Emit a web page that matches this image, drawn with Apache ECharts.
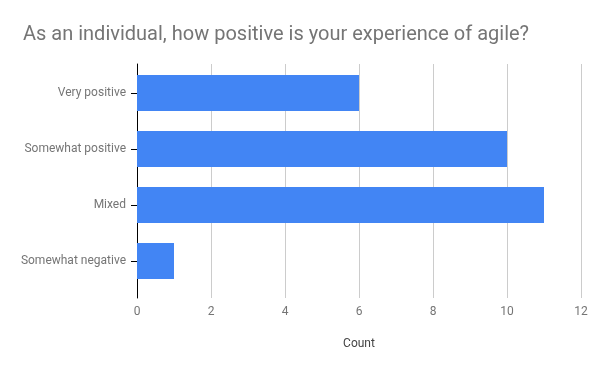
<!DOCTYPE html>
<html><head><meta charset="utf-8">
<script src="https://cdn.jsdelivr.net/npm/echarts@6/dist/echarts.min.js"></script>
<style>html,body{margin:0;padding:0;background:#fff}#c{width:600px;height:371px}</style>
</head><body><div id="c"></div>
<script>
const titleText = "As an individual, how positive is your experience of agile?";
const categories = ["Very positive", "Somewhat positive", "Mixed", "Somewhat negative"];
const counts = [6, 10, 11, 1];
const xTicks = [0, 2, 4, 6, 8, 10, 12];
const xName = "Count";

const chart = echarts.init(document.getElementById('c'), null, {renderer: 'canvas'});
const font = 'Roboto';
chart.setOption({
  animation: false,
  backgroundColor: '#ffffff',
  title: {
    text: titleText, left: 18, top: 20,
    textStyle: {fontFamily: font, fontSize: 20, fontWeight: 'normal', color: '#757575'}
  },
  grid: [
    {left: 137, right: 19, top: 64, bottom: 73},
    {left: 137, right: 19, top: 65, height: 224}
  ],
  xAxis: [
    {
      gridIndex: 0, type: 'value', min: xTicks[0], max: xTicks[xTicks.length - 1], interval: 2,
      name: xName, nameLocation: 'middle', nameGap: 40,
      nameTextStyle: {fontFamily: font, fontSize: 12, color: '#444444'},
      axisLine: {show: false}, axisTick: {show: false},
      axisLabel: {fontFamily: font, fontSize: 12, color: '#757575', margin: 8},
      splitLine: {show: true, lineStyle: {color: '#cccccc', width: 1}}
    },
    {
      gridIndex: 1, type: 'value', min: xTicks[0], max: xTicks[xTicks.length - 1], interval: 2,
      show: false, splitLine: {show: false}
    }
  ],
  yAxis: [
    {
      gridIndex: 0, type: 'category', data: categories, inverse: true,
      axisLine: {show: true, lineStyle: {color: '#000000', width: 1}},
      axisTick: {show: false}, axisLabel: {show: false}, splitLine: {show: false}
    },
    {
      gridIndex: 1, type: 'category', data: categories, inverse: true,
      axisLine: {show: false},
      axisTick: {show: true, alignWithLabel: true, length: 6, lineStyle: {color: '#000000'}},
      axisLabel: {fontFamily: font, fontSize: 12, color: '#757575', margin: 11},
      splitLine: {show: false}
    },
    {
      gridIndex: 1, type: 'category', data: categories, inverse: true, position: 'left',
      axisLine: {show: false},
      axisTick: {show: true, inside: true, alignWithLabel: true, length: 6, lineStyle: {color: '#000000'}},
      axisLabel: {show: false}, splitLine: {show: false}
    }
  ],
  series: [{
    type: 'bar', xAxisIndex: 1, yAxisIndex: 1, data: counts, barWidth: 36,
    itemStyle: {color: '#4285f4'}, z: 1
  }]
});
</script></body></html>
